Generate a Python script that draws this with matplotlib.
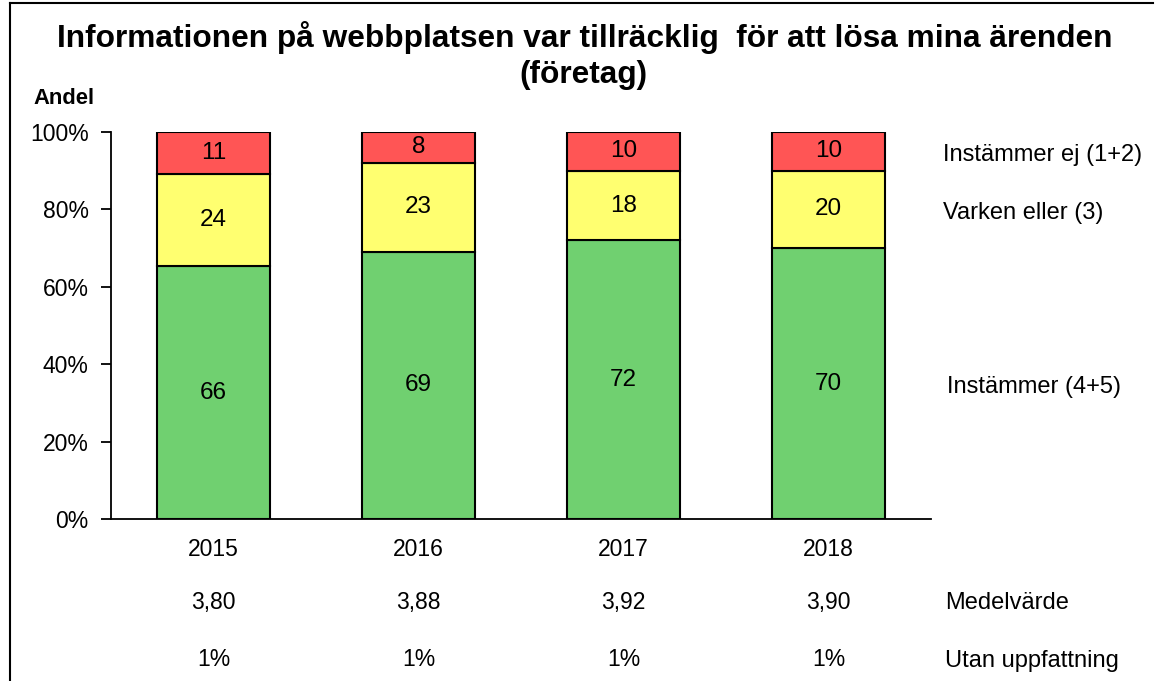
import numpy as np
import matplotlib.pyplot as plt
from matplotlib.transforms import blended_transform_factory

plt.rcParams['font.family'] = ['Liberation Sans', 'DejaVu Sans']

years = ['2015', '2016', '2017', '2018']
instammer = [66, 69, 72, 70]
varken = [24, 23, 18, 20]
ej = [11, 8, 10, 10]
medel = ['3,80', '3,88', '3,92', '3,90']
utan = ['1%', '1%', '1%', '1%']

series = [
    (instammer, '#70D070', 'Instämmer (4+5)'),
    (varken, '#FFFF70', 'Varken eller (3)'),
    (ej, '#FF5555', 'Instämmer ej (1+2)'),
]

fig = plt.figure(figsize=(11.55, 6.81), dpi=100)
ax = fig.add_axes([111 / 1155, 1 - 519 / 681, 820 / 1155, 387 / 681])

x = np.arange(len(years))
total = np.array(instammer) + np.array(varken) + np.array(ej)
bottom = np.zeros(len(years))
for vals, color, name in series:
    h = 100 * np.array(vals) / total
    ax.bar(x, h, width=0.556, bottom=bottom, color=color,
           edgecolor='black', linewidth=1.5)
    for xi, b, hi, v in zip(x, bottom, h, vals):
        ax.text(xi, b + hi / 2, str(v), ha='center', va='center', fontsize=17.5)
    bottom += h

ax.set_xlim(-0.5, 3.5)
ax.set_ylim(0, 100)
ax.set_yticks(range(0, 101, 20))
ax.set_yticklabels([f'{v}%' for v in range(0, 101, 20)], fontsize=16.5)
ax.tick_params(axis='y', length=7, width=1.3, pad=9)
ax.set_xticks([])
for s in ['top', 'right']:
    ax.spines[s].set_visible(False)
ax.spines['left'].set_linewidth(1.3)
ax.spines['bottom'].set_linewidth(1.3)

tr = blended_transform_factory(ax.transData, fig.transFigure)
for xi, yr, m, u in zip(x, years, medel, utan):
    ax.text(xi, 1 - 549 / 681, yr, transform=tr, ha='center', va='center', fontsize=16.5)
    ax.text(xi, 1 - 603 / 681, m, transform=tr, ha='center', va='center', fontsize=16.5)
    ax.text(xi, 1 - 659 / 681, u, transform=tr, ha='center', va='center', fontsize=16.5)

fig.text(943 / 1155, 1 - 155 / 681, 'Instämmer ej (1+2)', va='center', fontsize=17)
fig.text(943 / 1155, 1 - 213 / 681, 'Varken eller (3)', va='center', fontsize=17)
fig.text(947 / 1155, 1 - 387 / 681, 'Instämmer (4+5)', va='center', fontsize=17)
fig.text(945 / 1155, 1 - 603 / 681, 'Medelvärde', va='center', fontsize=17)
fig.text(945 / 1155, 1 - 661 / 681, 'Utan uppfattning', va='center', fontsize=17)

fig.text(585 / 1155, 1 - 38 / 681,
         'Informationen på webbplatsen var tillräcklig  för att lösa mina ärenden',
         ha='center', va='center', fontsize=22.8, fontweight='bold')
fig.text(583 / 1155, 1 - 75 / 681, '(företag)',
         ha='center', va='center', fontsize=22.8, fontweight='bold')
fig.text(33 / 1155, 1 - 98 / 681, 'Andel', va='center', fontsize=15.8, fontweight='bold')

# outer frame (left and top edges visible)
fig.add_artist(plt.Line2D([9.5 / 1155, 9.5 / 1155], [0, 1 - 2.5 / 681],
                          transform=fig.transFigure, color='black', linewidth=1.5))
fig.add_artist(plt.Line2D([9.5 / 1155, 1153 / 1155], [1 - 2.5 / 681, 1 - 2.5 / 681],
                          transform=fig.transFigure, color='black', linewidth=1.5))

fig.savefig('out.png', dpi=100)
